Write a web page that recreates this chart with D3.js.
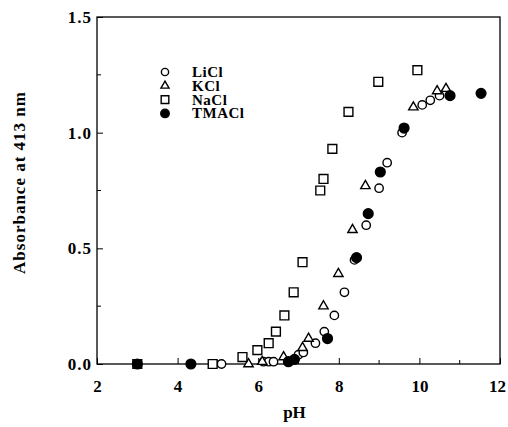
<!DOCTYPE html>
<html>
<head>
<meta charset="utf-8">
<script src="https://cdn.jsdelivr.net/npm/d3@7"></script>
<style>
  body { margin: 0; background: #fff; }
  text { font-family: 'Liberation Serif', 'DejaVu Serif', serif; font-weight: bold; fill: #000; }
</style>
</head>
<body>
<div id="chart"></div>
<script>
// values: [pH, absorbance]
const liclData = [[5.09, 0.0], [6.13, 0.01], [6.26, 0.01], [6.38, 0.01], [7.0, 0.04], [7.12, 0.05],
  [7.42, 0.09], [7.64, 0.14], [7.89, 0.21], [8.14, 0.31], [8.39, 0.45], [8.68, 0.60],
  [9.0, 0.76], [9.2, 0.87], [9.57, 1.0], [10.07, 1.12], [10.27, 1.14], [10.5, 1.16]];
const kclData = [[5.76, 0.0], [6.1, 0.01], [6.63, 0.03], [7.1, 0.07], [7.25, 0.11], [7.62, 0.25],
  [7.99, 0.39], [8.34, 0.58], [8.66, 0.77], [9.85, 1.11], [10.44, 1.18], [10.66, 1.19]];
const naclData = [[3.0, 0.0], [4.87, 0.0], [5.61, 0.03], [5.98, 0.06], [6.26, 0.09], [6.44, 0.14],
  [6.65, 0.21], [6.88, 0.31], [7.1, 0.44], [7.54, 0.75], [7.62, 0.8], [7.84, 0.93],
  [8.24, 1.09], [8.98, 1.22], [9.95, 1.27]];
const tmaclData = [[3.0, 0.0], [4.33, 0.0], [6.75, 0.01], [6.9, 0.02], [7.72, 0.11], [8.44, 0.46],
  [8.73, 0.65], [9.03, 0.83], [9.62, 1.02], [10.76, 1.16], [11.53, 1.17]];

const seriesNames = ['LiCl', 'KCl', 'NaCl', 'TMACl'];
const xTicks = [2, 4, 6, 8, 10, 12];
const xMinorTicks = [3, 5, 7, 9, 11];
const yTicks = [0, 0.5, 1.0, 1.5];
const yMinorTicks = [0.25, 0.75, 1.25];

const width = 508, height = 427;
const margin = {top: 17, right: 8, bottom: 63, left: 97};
const plotW = width - margin.left - margin.right;
const plotH = height - margin.top - margin.bottom;

const x = d3.scaleLinear().domain([2, 12]).range([0, plotW]);
const y = d3.scaleLinear().domain([0, 1.5]).range([plotH, 0]);

const svg = d3.select('#chart').append('svg')
  .attr('width', width)
  .attr('height', height)
  .append('g')
  .attr('transform', `translate(${margin.left}, ${margin.top})`);

// frame
svg.append('rect')
  .attr('width', plotW).attr('height', plotH)
  .attr('fill', 'none').attr('stroke', '#000').attr('stroke-width', 1.3);

// axes with inward ticks
const xAxis = svg.append('g').attr('transform', `translate(0, ${plotH})`)
  .call(d3.axisBottom(x).tickValues(xTicks).tickFormat(d3.format('d')).tickSizeInner(-6).tickSizeOuter(0).tickPadding(16));
xAxis.append('g').selectAll('line').data(xMinorTicks).join('line')
  .attr('x1', x).attr('x2', x).attr('y1', 0).attr('y2', -4).attr('stroke', '#000');
// last label sits against the page edge
xAxis.selectAll('.tick text').filter((d) => d === 12).attr('dx', -3);

const yAxis = svg.append('g')
  .call(d3.axisLeft(y).tickValues(yTicks).tickFormat(d3.format('.1f')).tickSizeInner(-6).tickSizeOuter(0).tickPadding(5));
yAxis.append('g').selectAll('line').data(yMinorTicks).join('line')
  .attr('y1', y).attr('y2', y).attr('x1', 0).attr('x2', 4).attr('stroke', '#000');

svg.selectAll('.domain').remove();
svg.selectAll('.tick line').attr('stroke', '#000');
svg.selectAll('.tick text')
  .style('font-size', '17px')
  .style('font-family', "'Liberation Serif', serif")
  .style('font-weight', 'bold');
yAxis.selectAll('.tick text').style('letter-spacing', '1px');

// axis titles
svg.append('text')
  .attr('x', plotW / 2 - 4).attr('y', plotH + 54)
  .attr('text-anchor', 'middle').style('font-size', '17px')
  .text('pH');
svg.append('text')
  .attr('transform', `translate(${-72}, ${plotH / 2 - 8}) rotate(-90)`)
  .attr('text-anchor', 'middle').style('font-size', '17px').style('letter-spacing', '1px')
  .text('Absorbance at 413 nm');

// markers
const styles = [
  {data: liclData, type: d3.symbolCircle, size: 55, fill: '#fff'},
  {data: kclData, type: d3.symbolTriangle, size: 38, fill: '#fff'},
  {data: naclData, type: d3.symbolSquare, size: 78, fill: '#fff'},
  {data: tmaclData, type: d3.symbolCircle, size: 75, fill: '#000'}
];

styles.forEach((s) => {
  svg.append('g').selectAll('path').data(s.data).join('path')
    .attr('transform', (d) => `translate(${x(d[0])}, ${y(d[1])})`)
    .attr('d', d3.symbol().type(s.type).size(s.size))
    .attr('fill', s.fill)
    .attr('stroke', '#000')
    .attr('stroke-width', 1.4);
});

// legend
const legend = svg.append('g').attr('transform', 'translate(68, 55)');
seriesNames.forEach((name, i) => {
  const s = styles[i];
  const row = legend.append('g').attr('transform', `translate(0, ${i * 13.8})`);
  row.append('path')
    .attr('d', d3.symbol().type(s.type).size(s.size * 0.75))
    .attr('fill', s.fill).attr('stroke', '#000').attr('stroke-width', 1.4);
  row.append('text').attr('x', 27).attr('y', 5).style('font-size', '15px').style('letter-spacing', '0.5px').text(name);
});
</script>
</body>
</html>
